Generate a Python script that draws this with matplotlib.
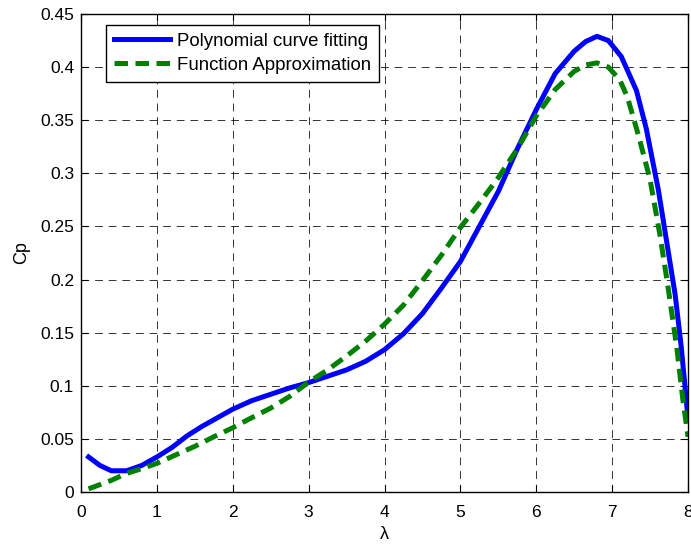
import numpy as np
import matplotlib
matplotlib.use("Agg")
import matplotlib.pyplot as plt

plt.rcParams['font.family'] = ['Liberation Sans', 'DejaVu Sans']

# Polynomial curve fitting
poly_x = [0.1, 0.25, 0.4, 0.6, 0.8, 1.0, 1.2, 1.4, 1.6, 1.8, 2.0, 2.25, 2.5,
          2.75, 3.0, 3.25, 3.5, 3.75, 4.0, 4.25, 4.5, 4.75, 5.0, 5.25, 5.5,
          5.75, 6.0, 6.25, 6.5, 6.65, 6.8, 6.95, 7.12, 7.32, 7.45, 7.61,
          7.72, 7.83, 7.91, 8.0]
poly_cp = [0.033, 0.025, 0.020, 0.020, 0.025, 0.033, 0.042, 0.053, 0.062,
           0.070, 0.078, 0.086, 0.092, 0.098, 0.103, 0.109, 0.115, 0.123,
           0.134, 0.149, 0.168, 0.192, 0.217, 0.250, 0.283, 0.323, 0.360,
           0.394, 0.415, 0.424, 0.429, 0.425, 0.410, 0.378, 0.342, 0.284,
           0.235, 0.186, 0.137, 0.069]

# Function approximation
func_x = [0.1, 0.4, 0.6, 0.8, 1.0, 1.25, 1.5, 1.75, 2.0, 2.25, 2.5, 2.75,
          3.0, 3.25, 3.5, 3.75, 4.0, 4.25, 4.5, 4.75, 5.0, 5.25, 5.5, 5.75,
          6.0, 6.25, 6.5, 6.65, 6.8, 6.95, 7.1, 7.2, 7.35, 7.5, 7.63, 7.73,
          7.85, 7.93, 8.0]
func_cp = [0.003, 0.011, 0.0175, 0.022, 0.027, 0.035, 0.043, 0.052, 0.0605,
           0.070, 0.079, 0.090, 0.1035, 0.115, 0.128, 0.142, 0.158, 0.176,
           0.199, 0.223, 0.249, 0.272, 0.296, 0.323, 0.354, 0.379, 0.396,
           0.402, 0.404, 0.400, 0.388, 0.372, 0.335, 0.294, 0.242, 0.196,
           0.137, 0.088, 0.052]

x_ticks = np.arange(0, 9, 1)
y_ticks = np.arange(0, 0.46, 0.05)
y_labels = ['0', '0.05', '0.1', '0.15', '0.2', '0.25', '0.3', '0.35', '0.4', '0.45']

fig = plt.figure(figsize=(6.91, 5.45), dpi=100)
ax = fig.add_axes([0.1172, 0.0972, 0.8785, 0.8771])

ax.plot(poly_x, poly_cp, color='#0000ff', lw=3.6, label='Polynomial curve fitting')
ax.plot(func_x, func_cp, color='#008000', lw=3.6, linestyle=(0, (2.7, 1.5)),
        label='Function Approximation')

ax.set_xlim(0, 8)
ax.set_ylim(0, 0.45)
ax.set_xticks(x_ticks)
ax.set_yticks(y_ticks)
ax.set_yticklabels(y_labels)
ax.tick_params(direction='in', top=True, right=True, length=5, width=0.8,
               labelsize=12.5)
ax.tick_params(axis='y', pad=5)
ax.tick_params(axis='x', pad=9)
ax.grid(True, color='black', linestyle=(0, (8, 6)), linewidth=0.7, alpha=0.8)
for s in ax.spines.values():
    s.set_linewidth(1.0)

ax.set_xlabel('λ', fontsize=13, labelpad=4.5)
ax.set_ylabel('Cp', fontsize=13, labelpad=7)

leg = ax.legend(loc='upper left', bbox_to_anchor=(0.041, 0.977), fontsize=13.4,
                handlelength=3.0, fancybox=False, framealpha=1,
                edgecolor='black', borderpad=0.42, labelspacing=0.38,
                handletextpad=0.4, borderaxespad=0)
leg.get_frame().set_linewidth(1.0)

fig.savefig('out.png', dpi=100)
